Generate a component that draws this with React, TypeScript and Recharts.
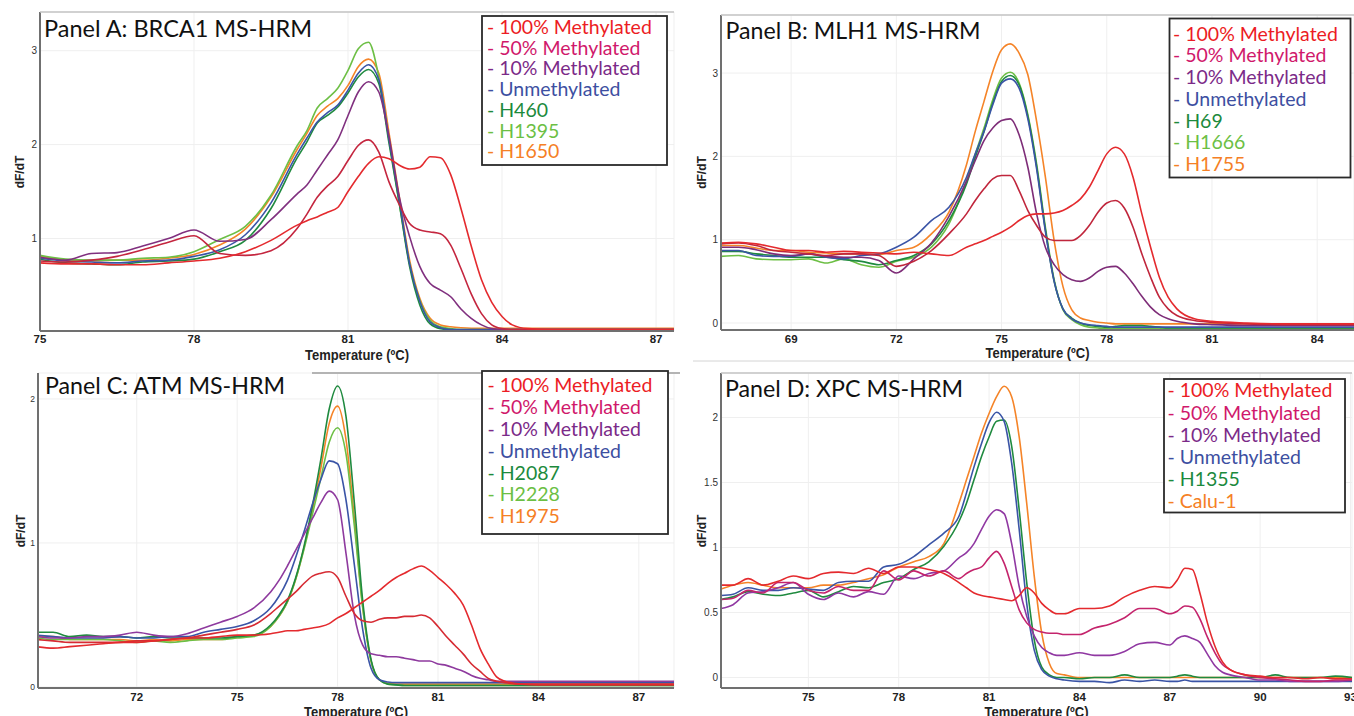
import React from "react";
import { LineChart, Line, XAxis, YAxis, CartesianGrid } from "recharts";

// ---- Panel A: BRCA1 ----
const tempsA = [75, 75.5, 76, 76.5, 77, 77.5, 78, 78.5, 79, 79.5, 80, 80.2, 80.4, 80.6, 80.8, 81, 81.2, 81.4, 81.6, 81.8, 82, 82.2, 82.4, 82.6, 82.8, 83, 83.2, 83.4, 83.6, 83.8, 84, 84.2, 84.5, 85, 86, 87, 87.35];
const a100 = [0.74, 0.73, 0.73, 0.72, 0.72, 0.74, 0.76, 0.79, 0.86, 0.98, 1.14, 1.19, 1.23, 1.28, 1.33, 1.5, 1.66, 1.8, 1.87, 1.85, 1.78, 1.74, 1.76, 1.87, 1.86, 1.68, 1.32, 0.92, 0.56, 0.32, 0.17, 0.08, 0.04, 0.03, 0.03, 0.03, 0.03];
const a50 = [0.76, 0.75, 0.77, 0.81, 0.88, 0.96, 1.03, 0.84, 0.82, 0.87, 1.1, 1.26, 1.44, 1.56, 1.66, 1.83, 1.99, 2.05, 1.92, 1.6, 1.36, 1.16, 1.09, 1.07, 1.05, 0.93, 0.68, 0.41, 0.2, 0.08, 0.04, 0.03, 0.03, 0.03, 0.03, 0.03, 0.03];
const a10 = [0.8, 0.77, 0.84, 0.85, 0.92, 1.0, 1.09, 0.97, 0.99, 1.2, 1.47, 1.57, 1.73, 1.89, 2.05, 2.31, 2.56, 2.67, 2.56, 2.08, 1.44, 1.02, 0.7, 0.52, 0.45, 0.38, 0.25, 0.15, 0.08, 0.04, 0.03, 0.03, 0.03, 0.03, 0.03, 0.03, 0.03];
const aUn = [0.79, 0.76, 0.75, 0.74, 0.76, 0.77, 0.81, 0.88, 1.04, 1.38, 1.89, 2.07, 2.24, 2.34, 2.42, 2.58, 2.76, 2.85, 2.69, 2.05, 1.41, 0.73, 0.33, 0.11, 0.05, 0.03, 0.03, 0.03, 0.03, 0.03, 0.03, 0.03, 0.03, 0.03, 0.03, 0.03, 0.03];
const aH460 = [0.78, 0.74, 0.73, 0.72, 0.75, 0.76, 0.78, 0.86, 0.98, 1.32, 1.85, 2.03, 2.23, 2.31, 2.4, 2.55, 2.72, 2.8, 2.65, 2.01, 1.37, 0.7, 0.29, 0.09, 0.04, 0.03, 0.025, 0.025, 0.025, 0.025, 0.025, 0.025, 0.025, 0.025, 0.025, 0.025, 0.025];
const aH1395 = [0.82, 0.78, 0.77, 0.77, 0.79, 0.8, 0.86, 0.99, 1.13, 1.46, 1.98, 2.15, 2.39, 2.49, 2.6, 2.79, 3.02, 3.09, 2.72, 2.05, 1.37, 0.73, 0.34, 0.13, 0.06, 0.04, 0.03, 0.03, 0.03, 0.03, 0.03, 0.03, 0.03, 0.03, 0.03, 0.03, 0.03];
const aH1650 = [0.81, 0.77, 0.76, 0.77, 0.77, 0.79, 0.83, 0.93, 1.1, 1.44, 1.94, 2.12, 2.31, 2.41, 2.49, 2.63, 2.83, 2.91, 2.76, 2.12, 1.44, 0.77, 0.36, 0.15, 0.08, 0.06, 0.05, 0.045, 0.045, 0.045, 0.045, 0.045, 0.045, 0.045, 0.045, 0.045, 0.045];

// ---- Panel B: MLH1 ----
const tempsB = [67, 67.5, 68, 68.5, 69, 69.5, 70, 70.5, 71, 71.5, 72, 72.5, 73, 73.5, 74, 74.25, 74.5, 74.75, 75, 75.25, 75.5, 75.75, 76, 76.25, 76.5, 76.75, 77, 77.25, 77.5, 77.75, 78, 78.25, 78.5, 78.75, 79, 79.25, 79.5, 79.75, 80, 80.5, 81, 82, 83, 84, 85.05];
const b100 = [0.96, 0.97, 0.95, 0.91, 0.87, 0.87, 0.85, 0.86, 0.85, 0.84, 0.83, 0.85, 0.83, 0.81, 0.91, 0.95, 0.99, 1.04, 1.09, 1.15, 1.23, 1.29, 1.31, 1.31, 1.32, 1.35, 1.41, 1.49, 1.63, 1.83, 2.03, 2.11, 2.03, 1.75, 1.31, 0.91, 0.55, 0.31, 0.17, 0.05, 0.02, 0.0, -0.01, -0.01, -0.01];
const b50 = [0.95, 0.96, 0.93, 0.87, 0.85, 0.83, 0.81, 0.83, 0.83, 0.81, 0.68, 0.74, 0.87, 1.07, 1.31, 1.47, 1.61, 1.73, 1.77, 1.77, 1.59, 1.35, 1.17, 1.03, 0.99, 0.99, 0.99, 1.05, 1.17, 1.33, 1.44, 1.47, 1.38, 1.15, 0.83, 0.55, 0.31, 0.17, 0.09, 0.03, 0.01, -0.01, -0.02, -0.02, -0.02];
const b10 = [0.91, 0.91, 0.88, 0.83, 0.81, 0.83, 0.8, 0.79, 0.79, 0.75, 0.6, 0.77, 0.96, 1.28, 1.7, 1.95, 2.19, 2.34, 2.43, 2.45, 2.26, 1.87, 1.31, 0.91, 0.7, 0.58, 0.52, 0.5, 0.54, 0.62, 0.67, 0.68, 0.6, 0.47, 0.32, 0.19, 0.1, 0.05, 0.02, -0.01, -0.02, -0.03, -0.03, -0.03, -0.03];
const bUn = [0.87, 0.87, 0.81, 0.8, 0.8, 0.83, 0.79, 0.77, 0.81, 0.83, 0.91, 1.03, 1.23, 1.39, 1.75, 2.03, 2.3, 2.62, 2.88, 2.93, 2.82, 2.45, 1.85, 1.1, 0.5, 0.17, 0.05, 0.0, -0.02, -0.03, -0.04, -0.05, -0.05, -0.05, -0.05, -0.05, -0.05, -0.05, -0.05, -0.05, -0.05, -0.05, -0.05, -0.05, -0.05];
const bH69 = [0.86, 0.86, 0.83, 0.81, 0.79, 0.79, 0.79, 0.76, 0.74, 0.7, 0.75, 0.81, 0.95, 1.23, 1.67, 1.99, 2.3, 2.64, 2.9, 2.97, 2.86, 2.48, 1.88, 1.12, 0.5, 0.17, 0.06, 0.0, -0.03, -0.04, -0.05, -0.04, -0.03, -0.03, -0.03, -0.04, -0.05, -0.06, -0.06, -0.06, -0.06, -0.06, -0.06, -0.06, -0.06];
const bH1666 = [0.8, 0.81, 0.77, 0.76, 0.76, 0.77, 0.72, 0.77, 0.7, 0.67, 0.74, 0.79, 0.91, 1.19, 1.71, 2.03, 2.34, 2.68, 2.94, 3.01, 2.88, 2.5, 1.91, 1.15, 0.52, 0.16, 0.04, -0.02, -0.05, -0.06, -0.07, -0.07, -0.07, -0.07, -0.07, -0.07, -0.07, -0.07, -0.07, -0.07, -0.07, -0.07, -0.07, -0.07, -0.07];
const bH1755 = [0.93, 0.93, 0.9, 0.87, 0.87, 0.85, 0.84, 0.83, 0.83, 0.82, 0.87, 0.91, 1.07, 1.33, 1.9, 2.3, 2.66, 3.02, 3.28, 3.35, 3.24, 2.98, 2.42, 1.75, 0.99, 0.44, 0.16, 0.06, 0.03, 0.01, 0.0, -0.01, -0.01, -0.01, -0.01, -0.01, -0.01, -0.01, -0.01, -0.01, -0.01, -0.01, -0.01, -0.01, -0.01];

// ---- Panel C: ATM ----
const tempsC = [69, 69.5, 70, 70.5, 71, 71.5, 72, 72.5, 73, 73.5, 74, 74.5, 75, 75.5, 76, 76.25, 76.5, 76.75, 77, 77.25, 77.5, 77.75, 78, 78.25, 78.5, 78.75, 79, 79.25, 79.5, 79.75, 80, 80.25, 80.5, 80.75, 81, 81.25, 81.5, 81.75, 82, 82.25, 82.5, 82.75, 83, 83.5, 84, 85, 86, 87, 88.05];
const c100 = [0.28, 0.27, 0.28, 0.29, 0.3, 0.31, 0.31, 0.32, 0.33, 0.34, 0.34, 0.35, 0.36, 0.36, 0.37, 0.38, 0.39, 0.39, 0.4, 0.41, 0.42, 0.44, 0.48, 0.51, 0.55, 0.59, 0.63, 0.67, 0.72, 0.76, 0.79, 0.82, 0.84, 0.81, 0.76, 0.71, 0.65, 0.57, 0.43, 0.27, 0.16, 0.07, 0.04, 0.02, 0.015, 0.015, 0.015, 0.015, 0.015];
const c50 = [0.33, 0.32, 0.31, 0.31, 0.31, 0.31, 0.32, 0.32, 0.33, 0.34, 0.36, 0.38, 0.4, 0.43, 0.51, 0.56, 0.61, 0.66, 0.72, 0.77, 0.79, 0.8, 0.76, 0.63, 0.51, 0.46, 0.45, 0.47, 0.48, 0.48, 0.49, 0.49, 0.5, 0.48, 0.42, 0.35, 0.29, 0.23, 0.16, 0.11, 0.06, 0.04, 0.03, 0.02, 0.02, 0.02, 0.02, 0.02, 0.02];
const c10 = [0.35, 0.34, 0.34, 0.35, 0.35, 0.36, 0.38, 0.36, 0.35, 0.37, 0.41, 0.45, 0.49, 0.55, 0.66, 0.74, 0.84, 0.95, 1.06, 1.17, 1.28, 1.36, 1.3, 0.93, 0.5, 0.29, 0.23, 0.22, 0.21, 0.21, 0.2, 0.19, 0.18, 0.18, 0.16, 0.15, 0.13, 0.11, 0.08, 0.06, 0.05, 0.04, 0.04, 0.04, 0.04, 0.04, 0.04, 0.04, 0.04];
const cUn = [0.36, 0.35, 0.34, 0.34, 0.34, 0.35, 0.34, 0.34, 0.35, 0.35, 0.38, 0.4, 0.42, 0.46, 0.55, 0.63, 0.74, 0.9, 1.08, 1.27, 1.44, 1.57, 1.55, 1.3, 0.85, 0.4, 0.13, 0.05, 0.035, 0.03, 0.03, 0.03, 0.03, 0.03, 0.03, 0.03, 0.03, 0.03, 0.03, 0.03, 0.03, 0.03, 0.03, 0.03, 0.03, 0.03, 0.03, 0.03, 0.03];
const cH2087 = [0.38, 0.38, 0.35, 0.36, 0.35, 0.35, 0.34, 0.35, 0.34, 0.34, 0.34, 0.34, 0.35, 0.36, 0.43, 0.5, 0.6, 0.76, 0.98, 1.26, 1.58, 1.93, 2.09, 1.88, 1.28, 0.6, 0.19, 0.05, 0.02, 0.015, 0.01, 0.01, 0.01, 0.01, 0.01, 0.01, 0.01, 0.01, 0.01, 0.01, 0.01, 0.01, 0.01, 0.01, 0.01, 0.01, 0.01, 0.01, 0.01];
const cH2228 = [0.34, 0.33, 0.33, 0.33, 0.33, 0.32, 0.31, 0.32, 0.31, 0.32, 0.33, 0.33, 0.34, 0.35, 0.42, 0.49, 0.59, 0.75, 0.96, 1.2, 1.45, 1.7, 1.8, 1.62, 1.12, 0.55, 0.18, 0.05, 0.02, 0.015, 0.01, 0.01, 0.01, 0.01, 0.01, 0.01, 0.01, 0.01, 0.01, 0.01, 0.01, 0.01, 0.01, 0.01, 0.01, 0.01, 0.01, 0.01, 0.01];
const cH1975 = [0.35, 0.35, 0.33, 0.33, 0.33, 0.33, 0.32, 0.33, 0.32, 0.33, 0.33, 0.33, 0.35, 0.36, 0.42, 0.49, 0.59, 0.75, 0.97, 1.23, 1.52, 1.83, 1.95, 1.72, 1.17, 0.56, 0.18, 0.05, 0.025, 0.02, 0.02, 0.02, 0.02, 0.02, 0.02, 0.02, 0.02, 0.02, 0.02, 0.02, 0.02, 0.02, 0.02, 0.02, 0.02, 0.02, 0.02, 0.02, 0.02];

// ---- Panel D: XPC ----
const tempsD = [72.1, 72.5, 73, 73.5, 74, 74.5, 75, 75.5, 76, 76.5, 77, 77.5, 78, 78.5, 79, 79.5, 80, 80.25, 80.5, 80.75, 81, 81.25, 81.5, 81.75, 82, 82.25, 82.5, 82.75, 83, 83.25, 83.5, 84, 84.5, 85, 85.5, 86, 86.5, 87, 87.25, 87.5, 87.75, 88, 88.25, 88.5, 88.75, 89, 89.5, 90, 90.5, 91, 91.5, 92, 92.5, 93.05];
const d100 = [0.71, 0.71, 0.76, 0.71, 0.74, 0.78, 0.76, 0.8, 0.81, 0.8, 0.84, 0.8, 0.85, 0.85, 0.83, 0.8, 0.73, 0.69, 0.65, 0.63, 0.62, 0.61, 0.6, 0.59, 0.63, 0.69, 0.65, 0.57, 0.52, 0.49, 0.49, 0.53, 0.53, 0.55, 0.62, 0.67, 0.7, 0.69, 0.75, 0.84, 0.83, 0.65, 0.42, 0.24, 0.12, 0.06, 0.02, 0.01, 0.0, 0.0, -0.01, 0.0, -0.01, -0.01];
const d50 = [0.6, 0.61, 0.67, 0.65, 0.73, 0.73, 0.67, 0.65, 0.7, 0.67, 0.67, 0.82, 0.75, 0.82, 0.78, 0.82, 0.76, 0.8, 0.83, 0.85, 0.92, 0.97, 0.88, 0.7, 0.52, 0.42, 0.37, 0.35, 0.34, 0.34, 0.33, 0.33, 0.38, 0.41, 0.46, 0.53, 0.53, 0.49, 0.51, 0.55, 0.54, 0.45, 0.31, 0.19, 0.1, 0.06, 0.02, 0.0, -0.01, -0.02, -0.03, -0.03, -0.02, -0.02];
const d10 = [0.53, 0.56, 0.65, 0.66, 0.69, 0.73, 0.64, 0.6, 0.65, 0.62, 0.66, 0.64, 0.78, 0.76, 0.8, 0.82, 0.92, 0.96, 1.03, 1.14, 1.24, 1.29, 1.26, 1.03, 0.7, 0.47, 0.32, 0.23, 0.19, 0.17, 0.17, 0.19, 0.17, 0.17, 0.2, 0.26, 0.27, 0.25, 0.3, 0.32, 0.3, 0.27, 0.18, 0.09, 0.04, 0.02, 0.0, -0.02, -0.02, -0.03, -0.03, -0.03, -0.03, -0.02];
const dUn = [0.63, 0.64, 0.69, 0.67, 0.67, 0.69, 0.68, 0.67, 0.73, 0.74, 0.74, 0.85, 0.87, 0.93, 1.02, 1.11, 1.24, 1.42, 1.62, 1.8, 1.96, 2.04, 1.97, 1.65, 1.14, 0.57, 0.21, 0.06, 0.01, -0.01, -0.02, -0.03, -0.03, -0.04, -0.02, -0.03, -0.02, -0.03, -0.03, -0.02, -0.03, -0.03, -0.03, -0.03, -0.03, -0.03, -0.03, -0.03, -0.03, -0.03, -0.03, -0.03, -0.03, -0.03];
const dH1355 = [0.6, 0.62, 0.66, 0.64, 0.63, 0.65, 0.67, 0.62, 0.66, 0.7, 0.69, 0.73, 0.76, 0.83, 0.89, 1.01, 1.2, 1.34, 1.52, 1.7, 1.85, 1.97, 1.98, 1.78, 1.29, 0.73, 0.29, 0.08, 0.02, 0.0, 0.0, -0.01, 0.0, 0.0, 0.02, 0.0, 0.0, 0.0, 0.01, 0.02, 0.01, 0.0, 0.0, 0.0, 0.0, 0.0, 0.0, 0.0, 0.02, 0.0, 0.0, 0.0, 0.01, 0.0];
const dCalu1 = [0.68, 0.71, 0.73, 0.71, 0.69, 0.69, 0.69, 0.71, 0.71, 0.73, 0.76, 0.79, 0.85, 0.89, 0.93, 1.03, 1.34, 1.52, 1.7, 1.88, 2.03, 2.16, 2.24, 2.16, 1.85, 1.34, 0.78, 0.34, 0.11, 0.03, 0.02, 0.0, 0.0, 0.0, 0.0, 0.0, 0.0, 0.0, 0.0, 0.0, 0.0, 0.0, 0.0, 0.0, 0.0, 0.0, 0.0, 0.0, 0.0, 0.0, 0.0, 0.0, 0.0, 0.0];

const legendColors = ["#ec1c24", "#d0186b", "#7b2a88", "#3d4fa1", "#1c8a3d", "#6cbf44", "#f58025"];

type Series = { key: string; name: string; color: string; values: number[] };

const RED = "#e42a2e";
const BLUE = "#3a54a6";
const DKGREEN = "#1f8a3f";
const LTGREEN = "#6dbf45";
const ORANGE = "#f58428";

const seriesA: Series[] = [
  { key: "s1", name: "- 100% Methylated", color: RED, values: a100 },
  { key: "s2", name: "- 50% Methylated", color: "#c4263f", values: a50 },
  { key: "s3", name: "- 10% Methylated", color: "#80307f", values: a10 },
  { key: "s4", name: "- Unmethylated", color: BLUE, values: aUn },
  { key: "s5", name: "- H460", color: DKGREEN, values: aH460 },
  { key: "s6", name: "- H1395", color: LTGREEN, values: aH1395 },
  { key: "s7", name: "- H1650", color: ORANGE, values: aH1650 },
];
const seriesB: Series[] = [
  { key: "s1", name: "- 100% Methylated", color: RED, values: b100 },
  { key: "s2", name: "- 50% Methylated", color: "#c0263c", values: b50 },
  { key: "s3", name: "- 10% Methylated", color: "#7e2d78", values: b10 },
  { key: "s4", name: "- Unmethylated", color: BLUE, values: bUn },
  { key: "s5", name: "- H69", color: DKGREEN, values: bH69 },
  { key: "s6", name: "- H1666", color: LTGREEN, values: bH1666 },
  { key: "s7", name: "- H1755", color: ORANGE, values: bH1755 },
];
const seriesC: Series[] = [
  { key: "s1", name: "- 100% Methylated", color: RED, values: c100 },
  { key: "s2", name: "- 50% Methylated", color: "#d62b33", values: c50 },
  { key: "s3", name: "- 10% Methylated", color: "#8e3a9e", values: c10 },
  { key: "s4", name: "- Unmethylated", color: BLUE, values: cUn },
  { key: "s5", name: "- H2087", color: DKGREEN, values: cH2087 },
  { key: "s6", name: "- H2228", color: LTGREEN, values: cH2228 },
  { key: "s7", name: "- H1975", color: ORANGE, values: cH1975 },
];
const seriesD: Series[] = [
  { key: "s1", name: "- 100% Methylated", color: RED, values: d100 },
  { key: "s2", name: "- 50% Methylated", color: "#c4246c", values: d50 },
  { key: "s3", name: "- 10% Methylated", color: "#9038a2", values: d10 },
  { key: "s4", name: "- Unmethylated", color: BLUE, values: dUn },
  { key: "s5", name: "- H1355", color: DKGREEN, values: dH1355 },
  { key: "s7", name: "- Calu-1", color: ORANGE, values: dCalu1 },
];

function buildRows(temps: number[], series: Series[]) {
  return temps.map((t, i) => {
    const row: Record<string, number> = { t };
    series.forEach((s) => {
      row[s.key] = s.values[i];
    });
    return row;
  });
}

const axisFont = "'Liberation Sans', Arial, sans-serif";
const textFont = "Lato, 'Open Sans', sans-serif";

interface IPanelProps {
  left: number;
  top: number;
  width: number;
  height: number;
  margin: { top: number; right: number; bottom: number; left: number };
  yWidth: number;
  xHeight: number;
  xDomain: [number, number];
  yDomain: [number, number];
  xTicks: number[];
  yTicks: number[];
  xTickMargin: number;
  yTickSize: number;
  temps: number[];
  series: Series[];
}

const Panel = ({ left, top, width, height, margin, yWidth, xHeight, xDomain, yDomain, xTicks, yTicks, xTickMargin, yTickSize, temps, series }: IPanelProps) => {
  const data = buildRows(temps, series);
  const drawOrder = [...series].reverse();
  return (
    <div style={{ position: "absolute", left, top }}>
      <LineChart width={width} height={height} data={data} margin={margin}>
        <CartesianGrid stroke="#efefef" />
        <XAxis
          dataKey="t"
          type="number"
          domain={xDomain}
          ticks={xTicks}
          interval={0}
          allowDataOverflow
          height={xHeight}
          tickLine={false}
          tickSize={0}
          tickMargin={xTickMargin}
          axisLine={{ stroke: "#707070", strokeWidth: 2 }}
          tick={{ fontSize: 11.5, fontWeight: "bold", fill: "#222", fontFamily: axisFont }}
        />
        <YAxis
          type="number"
          domain={yDomain}
          ticks={yTicks}
          interval={0}
          allowDataOverflow
          width={yWidth}
          tickLine={false}
          tickSize={0}
          tickMargin={3}
          axisLine={{ stroke: "#707070", strokeWidth: 2 }}
          tick={{ fontSize: yTickSize, fill: "#333", fontFamily: axisFont }}
        />
        {drawOrder.map((s) => (
          <Line key={s.key} type="monotone" dataKey={s.key} name={s.name} stroke={s.color} strokeWidth={1.6} dot={false} activeDot={false} isAnimationActive={false} />
        ))}
      </LineChart>
    </div>
  );
};

const titles = [
  { text: "Panel A: BRCA1 MS-HRM", x: 44, y: 37, len: 268 },
  { text: "Panel B: MLH1 MS-HRM", x: 725.5, y: 39, len: 255 },
  { text: "Panel C: ATM MS-HRM", x: 45, y: 393.5, len: 240 },
  { text: "Panel D: XPC MS-HRM", x: 725, y: 397, len: 238 },
];

const legends = [
  { series: seriesA, colors: legendColors, x: 482, y: 16, w: 185, h: 149, tx: 487, lines: [34, 54.7, 75.4, 96.1, 116.8, 137.5, 158] },
  { series: seriesB, colors: legendColors, x: 1169.5, y: 18.5, w: 181, h: 159, tx: 1173, lines: [40.7, 62.4, 84.1, 105.8, 127.5, 149.2, 170.9] },
  { series: seriesC, colors: legendColors, x: 482, y: 371, w: 186, h: 163, tx: 487.5, lines: [392.3, 414.1, 435.9, 457.7, 479.5, 501.3, 523.1] },
  { series: seriesD, colors: [legendColors[0], legendColors[1], legendColors[2], legendColors[3], legendColors[4], legendColors[6]], x: 1164, y: 379, w: 181, h: 133.5, tx: 1167.5, lines: [397.3, 419.5, 441.7, 463.9, 486.1, 508.1] },
];

const yLabels = [
  { x: 20, y: 172 },
  { x: 702, y: 172.5 },
  { x: 21, y: 531 },
  { x: 702, y: 531 },
];
const xLabels = [
  { x: 357, y: 360 },
  { x: 1037.5, y: 358 },
  { x: 356, y: 716.5 },
  { x: 1036.5, y: 716.5 },
];

const Overlay = () => (
  <svg width={1354} height={716} style={{ position: "absolute", left: 0, top: 0, pointerEvents: "none" }}>
    <line x1={40} y1={12} x2={674} y2={12} stroke="#c4c4c4" strokeWidth={1.5} />
    <line x1={721} y1={15} x2={1354} y2={15} stroke="#c4c4c4" strokeWidth={1.5} />
    <line x1={312} y1={373} x2={680} y2={373} stroke="#b4b4b4" strokeWidth={2} />
    <line x1={721} y1={373} x2={1352} y2={373} stroke="#c4c4c4" strokeWidth={1.5} />
    <line x1={693} y1={361} x2={1354} y2={361} stroke="#d4d4d4" strokeWidth={1} />
    {titles.map((t) => (
      <text key={t.text} x={t.x} y={t.y} fontSize={24} fontFamily={textFont} fill="#111" textLength={t.len} lengthAdjust="spacingAndGlyphs">
        {t.text}
      </text>
    ))}
    {legends.map((lg, li) => (
      <g key={`lg-${li}`}>
        <rect x={lg.x} y={lg.y} width={lg.w} height={lg.h} fill="#fff" stroke="#2a2a2a" strokeWidth={1.8} />
        {lg.series.map((s, i) => (
          <text key={s.name} x={lg.tx} y={lg.lines[i]} fontSize={19.5} fontFamily={textFont} fill={lg.colors[i]}>
            {s.name}
          </text>
        ))}
      </g>
    ))}
    {yLabels.map((p, i) => (
      <text key={`yl-${i}`} x={p.x} y={p.y} transform={`rotate(-90 ${p.x} ${p.y})`} textAnchor="middle" dominantBaseline="central" fontSize={12} fontWeight="bold" fontFamily={axisFont} fill="#222">
        dF/dT
      </text>
    ))}
    {xLabels.map((p, i) => (
      <text key={`xl-${i}`} x={p.x} y={p.y} textAnchor="middle" fontSize={14} fontWeight="bold" fontFamily={axisFont} fill="#222" textLength={104} lengthAdjust="spacingAndGlyphs">
        Temperature (ºC)
      </text>
    ))}
  </svg>
);

export default function App() {
  return (
    <div style={{ position: "absolute", left: 0, top: 0, width: 1354, height: 716, background: "#fff", overflow: "hidden" }}>
      <Panel
        left={0} top={0} width={680} height={360}
        margin={{ top: 12, right: 6, bottom: 0, left: 0 }}
        yWidth={40} xHeight={29}
        xDomain={[75, 87.35]} yDomain={[0.015, 3.412]}
        xTicks={[75, 78, 81, 84, 87]} yTicks={[1, 2, 3]}
        xTickMargin={4} yTickSize={10}
        temps={tempsA} series={seriesA}
      />
      <Panel
        left={680} top={0} width={674} height={360}
        margin={{ top: 15, right: 0, bottom: 0, left: 0 }}
        yWidth={41} xHeight={30}
        xDomain={[67, 85.05]} yDomain={[-0.084, 3.697]}
        xTicks={[69, 72, 75, 78, 81, 84]} yTicks={[0, 1, 2, 3]}
        xTickMargin={5} yTickSize={10}
        temps={tempsB} series={seriesB}
      />
      <Panel
        left={0} top={360} width={680} height={356}
        margin={{ top: 13, right: 6, bottom: 0, left: 0 }}
        yWidth={38} xHeight={28}
        xDomain={[69.05, 88.05]} yDomain={[-0.007, 2.18]}
        xTicks={[72, 75, 78, 81, 84, 87]} yTicks={[0, 1, 2]}
        xTickMargin={5} yTickSize={8.5}
        temps={tempsC} series={seriesC}
      />
      <Panel
        left={680} top={360} width={674} height={356}
        margin={{ top: 13, right: 2, bottom: 0, left: 0 }}
        yWidth={41} xHeight={28}
        xDomain={[72.1, 93.05]} yDomain={[-0.081, 2.342]}
        xTicks={[75, 78, 81, 84, 87, 90, 93]} yTicks={[0, 0.5, 1, 1.5, 2]}
        xTickMargin={5} yTickSize={10}
        temps={tempsD} series={seriesD}
      />
      <Overlay />
    </div>
  );
}
